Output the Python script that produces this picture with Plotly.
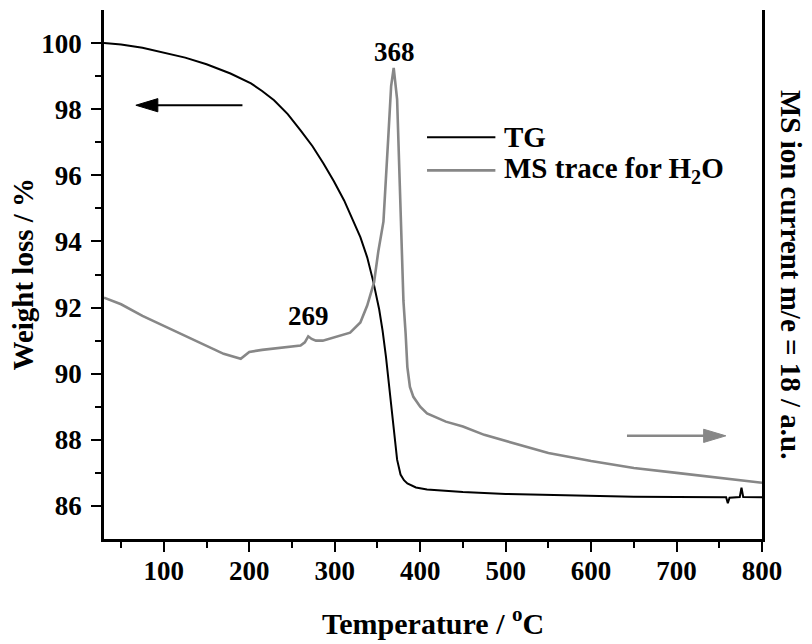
import plotly.graph_objects as go

# ---------------- data ----------------
tg_temp = [30, 50, 75, 100, 125, 150, 178, 202, 215, 229, 245, 260, 274, 287, 299, 311, 321,
           330, 338, 345, 352, 356, 360, 365, 369, 373, 377, 381, 385, 395, 408, 450, 500,
           550, 600, 650, 700, 740, 758, 760, 762, 774, 776, 778, 800]
tg_weight = [100.0, 99.96, 99.86, 99.72, 99.56, 99.36, 99.08, 98.78, 98.55, 98.27, 97.85,
             97.36, 96.88, 96.35, 95.82, 95.24, 94.68, 94.13, 93.52, 92.8, 91.95, 91.3, 90.5,
             89.3, 88.3, 87.4, 86.95, 86.78, 86.68, 86.56, 86.5, 86.42, 86.36, 86.33, 86.3,
             86.28, 86.27, 86.26, 86.26, 86.08, 86.25, 86.27, 86.55, 86.27, 86.26]

ms_temp = [30, 50, 75, 100, 125, 150, 170, 190, 200, 215, 240, 260, 265, 269, 273, 278, 286,
           300, 318, 330, 338, 346, 351, 357, 360, 363, 366, 369, 373, 376.5, 380.4, 383,
           385, 388, 392, 400, 408, 430, 450, 475, 500, 550, 600, 650, 700, 750, 800]
ms_signal = [92.3, 92.1, 91.75, 91.45, 91.15, 90.85, 90.6, 90.45, 90.66, 90.72, 90.8, 90.85,
             90.95, 91.13, 91.05, 91.0, 91.0, 91.1, 91.24, 91.55, 92.06, 92.76, 93.7, 94.6,
             95.8, 97.3, 98.7, 99.25, 98.3, 95.4, 92.2, 91.2, 90.2, 89.6, 89.3, 89.0, 88.8,
             88.55, 88.4, 88.15, 87.97, 87.6, 87.36, 87.15, 87.0, 86.85, 86.7]

x_ticks = [100, 200, 300, 400, 500, 600, 700, 800]
y_ticks = [86, 88, 90, 92, 94, 96, 98, 100]
x_minor = [50, 150, 250, 350, 450, 550, 650, 750]
y_minor = [87, 89, 91, 93, 95, 97, 99]

peak_labels = [("368", 370, 99.73), ("269", 269, 91.76)]

FONT = "Liberation Serif"
BLACK = "#000000"
GRAY = "#878787"

fig = go.Figure()
fig.add_trace(go.Scatter(x=tg_temp, y=tg_weight, mode="lines", name="TG",
                         line=dict(color=BLACK, width=2), showlegend=False))
fig.add_trace(go.Scatter(x=ms_temp, y=ms_signal, mode="lines", name="MS trace for H<sub>2</sub>O",
                         line=dict(color=GRAY, width=2.6), yaxis="y2", showlegend=False))

annotations = []
for txt, xx, yy in peak_labels:
    annotations.append(dict(x=xx, y=yy, xref="x", yref="y", text=txt, showarrow=False,
                            font=dict(family=FONT, size=27, color=BLACK, weight="bold")))

# manual legend
legend_items = [("TG", BLACK, 97.15, 2), ("MS trace for H<sub>2</sub>O", GRAY, 96.15, 2.6)]
shapes = []
for txt, col, yy, w in legend_items:
    shapes.append(dict(type="line", xref="x", yref="y", x0=408, x1=488, y0=yy, y1=yy,
                       line=dict(color=col, width=w)))
    annotations.append(dict(x=496, y=yy, xref="x", yref="y", text=txt, showarrow=False,
                            xanchor="left", yanchor="middle",
                            font=dict(family=FONT, size=29, color=BLACK, weight="bold")))

# arrows
shapes.append(dict(type="line", xref="x", yref="y", x0=192, x1=90, y0=98.12, y1=98.12,
                   line=dict(color=BLACK, width=2)))
shapes.append(dict(type="path", xref="x", yref="y",
                   path="M 67.3,98.12 L 93,98.32 L 93,97.92 Z",
                   fillcolor=BLACK, line=dict(color=BLACK, width=1)))
shapes.append(dict(type="line", xref="x", yref="y", x0=642, x1=735, y0=88.12, y1=88.12,
                   line=dict(color=GRAY, width=2.5)))
shapes.append(dict(type="path", xref="x", yref="y",
                   path="M 757.7,88.12 L 731.7,88.32 L 731.7,87.92 Z",
                   fillcolor=GRAY, line=dict(color=GRAY, width=1)))

# axis titles
annotations.append(dict(x=-0.1246, y=0.5, xref="paper", yref="paper", text="Weight loss / %",
                        textangle=-90, showarrow=False, xanchor="center", yanchor="middle",
                        font=dict(family=FONT, size=29, color=BLACK, weight="bold")))
annotations.append(dict(x=0.5, y=-0.155, xref="paper", yref="paper",
                        text="Temperature / <sup>o</sup>C", showarrow=False,
                        xanchor="center", yanchor="middle",
                        font=dict(family=FONT, size=30, color=BLACK, weight="bold")))
annotations.append(dict(x=1.045, y=0.5, xref="paper", yref="paper",
                        text="MS ion current m/e = 18 / a.u.", textangle=90, showarrow=False,
                        xanchor="center", yanchor="middle",
                        font=dict(family=FONT, size=29, color=BLACK, weight="bold")))

fig.update_layout(
    width=812, height=644,
    margin=dict(l=104, r=50, t=10, b=105),
    plot_bgcolor="white", paper_bgcolor="white",
    font=dict(family=FONT, color=BLACK),
    shapes=shapes, annotations=annotations,
    xaxis=dict(range=[30, 800], tickvals=x_ticks, ticks="outside", ticklen=10, tickwidth=2,
               tickcolor=BLACK, showline=True, linewidth=2.5, linecolor=BLACK,
               showgrid=False, zeroline=False, ticklabelstandoff=-4,
               tickfont=dict(family=FONT, size=27, color=BLACK, weight="bold"),
               minor=dict(tickvals=x_minor, ticks="outside", ticklen=6, tickwidth=2,
                          tickcolor=BLACK, showgrid=False)),
    yaxis=dict(range=[85, 101], tickvals=y_ticks, ticks="outside", ticklen=10, tickwidth=2,
               tickcolor=BLACK, showline=True, linewidth=2.5, linecolor=BLACK,
               showgrid=False, zeroline=False, ticklabelstandoff=4,
               tickfont=dict(family=FONT, size=27, color=BLACK, weight="bold"),
               minor=dict(tickvals=y_minor, ticks="outside", ticklen=6, tickwidth=2,
                          tickcolor=BLACK, showgrid=False)),
    yaxis2=dict(range=[85, 101], overlaying="y", side="right", showline=True, linewidth=2.5,
                linecolor=BLACK, showticklabels=False, ticks="", showgrid=False,
                zeroline=False),
)

fig.write_html("out.html")
